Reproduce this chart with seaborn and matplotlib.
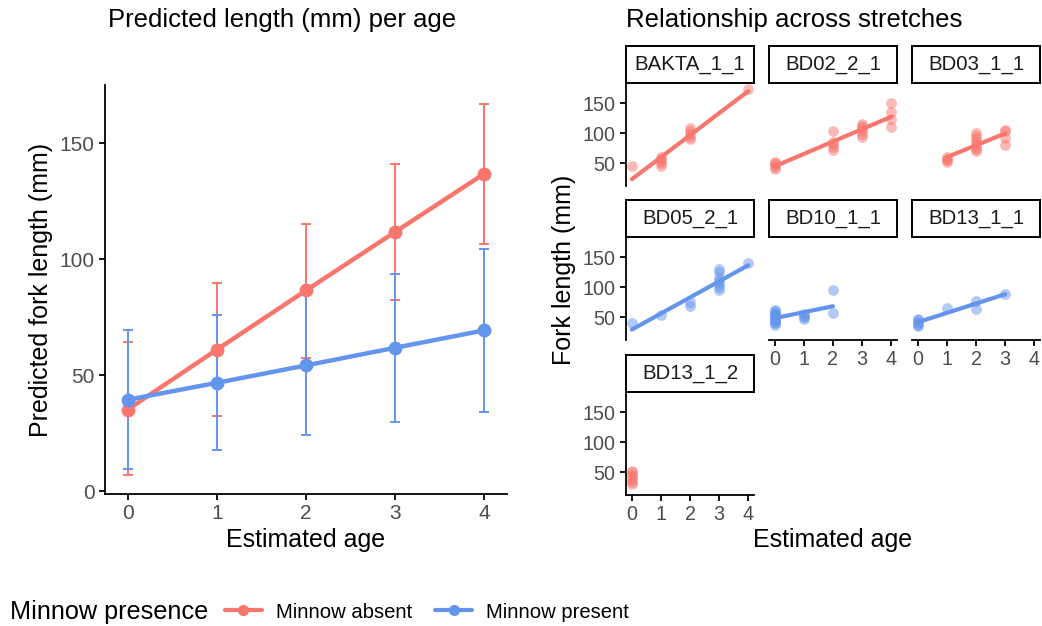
import numpy as np
import pandas as pd
import matplotlib
matplotlib.use("Agg")
import matplotlib.pyplot as plt
import seaborn as sns
from matplotlib.lines import Line2D

# ---------------- data ----------------
ages = [0, 1, 2, 3, 4]
absent_mean = [35.3, 61.1, 86.6, 111.8, 136.9]
absent_low = [6.9, 32.3, 57.5, 82.3, 106.8]
absent_high = [64.4, 89.8, 115.1, 141.0, 167.1]
present_mean = [39.5, 46.8, 54.3, 61.9, 69.4]
present_low = [9.8, 18.0, 24.4, 29.9, 34.2]
present_high = [69.4, 76.1, 84.5, 93.8, 104.3]

groups = ["Minnow absent", "Minnow present"]
colors = ["#F8766D", "#6495ED"]

stretches = ["BAKTA_1_1", "BD02_2_1", "BD03_1_1", "BD05_2_1", "BD10_1_1", "BD13_1_1", "BD13_1_2"]
stretch_group = ["Minnow absent", "Minnow absent", "Minnow absent",
                 "Minnow present", "Minnow present", "Minnow present", "Minnow absent"]

bakta_age = [0, 1, 1, 1, 1, 1, 2, 2, 2, 2, 2, 4]
bakta_len = [45, 46, 50, 54, 57, 60, 90, 94, 98, 103, 108, 174]
bd02_age = [0, 0, 0, 0, 0, 2, 2, 2, 2, 2, 3, 3, 3, 3, 3, 3, 4, 4, 4, 4]
bd02_len = [40, 44, 47, 50, 53, 72, 77, 82, 86, 104, 94, 99, 104, 108, 112, 116, 111, 124, 136, 150]
bd03_age = [1, 1, 1, 1, 2, 2, 2, 2, 2, 2, 2, 2, 3, 3, 3, 3]
bd03_len = [52, 55, 58, 60, 70, 74, 78, 82, 86, 90, 95, 100, 80, 92, 104, 106]
bd05_age = [0, 1, 2, 2, 3, 3, 3, 3, 3, 3, 3, 4]
bd05_len = [40, 54, 69, 75, 95, 100, 105, 110, 115, 125, 130, 140]
bd10_age = [0] * 13 + [1, 1, 1, 1, 2, 2]
bd10_len = [38, 40, 42, 44, 46, 48, 50, 52, 54, 56, 58, 60, 62, 48, 50, 52, 55, 57, 95]
bd13a_age = [0, 0, 0, 0, 0, 0, 1, 2, 2, 3]
bd13a_len = [35, 38, 40, 42, 45, 48, 66, 64, 77, 89]
bd13b_age = [0, 0, 0, 0, 0, 0, 0]
bd13b_len = [30, 34, 38, 42, 46, 50, 53]

stretch_ages = [bakta_age, bd02_age, bd03_age, bd05_age, bd10_age, bd13a_age, bd13b_age]
stretch_lens = [bakta_len, bd02_len, bd03_len, bd05_len, bd10_len, bd13a_len, bd13b_len]

# ---------------- style ----------------
sns.set_theme(style="ticks")
plt.rcParams['font.family'] = ['Liberation Sans', 'DejaVu Sans']
GREY = "#4D4D4D"
plt.rcParams.update({
    "axes.linewidth": 1.3,
    "xtick.major.width": 1.3, "ytick.major.width": 1.3,
    "xtick.major.size": 4, "ytick.major.size": 4,
    "xtick.color": "black", "ytick.color": "black",
    "xtick.labelcolor": GREY, "ytick.labelcolor": GREY,
    "axes.edgecolor": "black",
    "text.color": "black", "axes.labelcolor": "black",
})

W, H = 1042, 626
fig = plt.figure(figsize=(W / 100, H / 100), dpi=100)


def box(l, t, r, b):
    return [l / W, 1 - b / H, (r - l) / W, (b - t) / H]


pal = dict(zip(groups, colors))

# ---------------- left panel ----------------
ax = fig.add_axes(box(105, 85, 507, 494))
df = pd.DataFrame({
    "age": ages * 2,
    "mean": absent_mean + present_mean,
    "low": absent_low + present_low,
    "high": absent_high + present_high,
    "group": [groups[0]] * 5 + [groups[1]] * 5,
})
for g in groups:
    d = df[df.group == g]
    ax.errorbar(d["age"], d["mean"], yerr=[d["mean"] - d["low"], d["high"] - d["mean"]],
                fmt="none", ecolor=pal[g], elinewidth=1.4, capsize=3.8, capthick=1.4, zorder=1)
sns.lineplot(data=df, x="age", y="mean", hue="group", palette=pal, linewidth=3.2,
             marker="o", markersize=10, markeredgewidth=0, ax=ax, legend=False, zorder=3)
ax.set_xlim(-0.255, 4.255)
ax.set_ylim(-1.1, 175.1)
ax.set_xticks(ages)
ax.set_yticks([0, 50, 100, 150])
ax.tick_params(labelsize=15)
ax.set_xlabel("Estimated age", fontsize=18, labelpad=3)
ax.set_ylabel("Predicted fork length (mm)", fontsize=18, labelpad=5)
sns.despine(ax=ax)
fig.text(108 / W, 1 - 20 / H, "Predicted length (mm) per age", fontsize=18.5, ha="left", va="center")

# ---------------- facets ----------------
col_l = [626, 769, 912]
pw = 128
row_t = [83, 237, 392]
ph = 103
strip_h = 37
bottom_row = {0: 2, 1: 1, 2: 1}

for i, name in enumerate(stretches):
    r, c = divmod(i, 3)
    l, t = col_l[c], row_t[r]
    fa = fig.add_axes(box(l, t, l + pw, t + ph))
    fd = pd.DataFrame({"age": stretch_ages[i], "len": stretch_lens[i]})
    col = pal[stretch_group[i]]
    do_fit = fd["age"].nunique() > 1
    sns.regplot(data=fd, x="age", y="len", ax=fa, ci=None, fit_reg=do_fit, color=col,
                scatter_kws=dict(s=60, alpha=0.5, linewidths=0),
                line_kws=dict(linewidth=3))
    fa.set_xlim(-0.2, 4.2)
    fa.set_ylim(12.5, 183.5)
    fa.set_xticks([0, 1, 2, 3, 4])
    fa.set_yticks([50, 100, 150])
    fa.tick_params(labelsize=14.2)
    fa.set_xlabel("")
    fa.set_ylabel("")
    for s in ["top", "right"]:
        fa.spines[s].set_visible(False)
    if c != 0:
        fa.spines["left"].set_visible(False)
        fa.tick_params(axis="y", left=False, labelleft=False)
    if r != bottom_row[c]:
        fa.spines["bottom"].set_visible(False)
        fa.tick_params(axis="x", bottom=False, labelbottom=False)
    # strip
    sa = fig.add_axes(box(l, t - strip_h, l + pw, t))
    sa.set_xticks([])
    sa.set_yticks([])
    for s in sa.spines.values():
        s.set_visible(True)
        s.set_linewidth(1.4)
        s.set_edgecolor("black")
    sa.set_facecolor("white")
    sa.text(0.5, 0.5, name, ha="center", va="center", fontsize=14.7, color="#1A1A1A",
            transform=sa.transAxes)

fig.text(626 / W, 1 - 20 / H, "Relationship across stretches", fontsize=18.5, ha="left", va="center")
fig.text(564 / W, 1 - 270 / H, "Fork length (mm)", fontsize=18, rotation=90, ha="center", va="center")
fig.text(833 / W, 1 - 540 / H, "Estimated age", fontsize=18, ha="center", va="center")

# ---------------- legend ----------------
fig.text(10 / W, 1 - 612 / H, "Minnow presence", fontsize=18.2, ha="left", va="center")
handles = [Line2D([], [], color=c, linewidth=3, marker="o", markersize=8, markeredgewidth=0) for c in colors]
fig.legend(handles, groups, loc="center left", bbox_to_anchor=(225 / W, 1 - 612 / H), ncol=2,
           frameon=False, fontsize=14.6, handlelength=1.8, handletextpad=0.7, columnspacing=1.15,
           borderaxespad=0, borderpad=0)

fig.savefig("out.png", dpi=100, facecolor="white")
